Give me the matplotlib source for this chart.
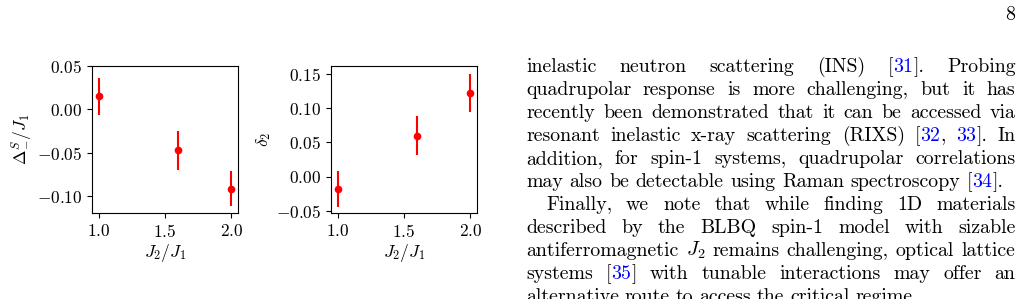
import matplotlib
matplotlib.use("Agg")
import matplotlib.pyplot as plt

plt.rcParams['font.family'] = 'serif'
plt.rcParams['font.serif'] = ['cmr10', 'DejaVu Serif']
plt.rcParams['mathtext.fontset'] = 'cm'
plt.rcParams['axes.formatter.use_mathtext'] = True
plt.rcParams['axes.unicode_minus'] = True

# data
j_ratio = [1.0, 1.6, 2.0]
delta_s = [0.015, -0.047, -0.091]
delta_s_err = [0.021, 0.022, 0.020]
delta2 = [-0.018, 0.060, 0.122]
delta2_err = [0.026, 0.029, 0.028]

xticks = [1.0, 1.5, 2.0]
yticks1 = [-0.10, -0.05, 0.00, 0.05]
yticks2 = [-0.05, 0.00, 0.05, 0.10, 0.15]

B = 'blue'
# page text next to the figure; |...| marks a blue reference number
# second field: right edge of the line in px
lines = [
    ("inelastic neutron scattering (INS) [|31|]. Probing", 1015.5, 0),
    ("quadrupolar response is more challenging, but it has", 1015.5, 0),
    ("recently been demonstrated that it can be accessed via", 1015.5, 0),
    ("resonant inelastic x-ray scattering (RIXS) [|32|, |33|]. In", 1015.5, 0),
    ("addition, for spin-1 systems, quadrupolar correlations", 1015.5, 0),
    ("may also be detectable using Raman spectroscopy [|34|].", 1003, 0),
    ("Finally, we note that while finding 1D materials", 1015.5, 20),
    ("described by the BLBQ spin-1 model with sizable", 1015.5, 0),
    ("antiferromagnetic $J_2$ remains challenging, optical lattice", 1015.5, 0),
    ("systems [|35|] with tunable interactions may offer an", 1015.5, 0),
    ("alternative route to access the critical regime.", 918, 0),
]

W, H = 1022, 299
fig = plt.figure(figsize=(W / 100, H / 100), dpi=100)

fs = 12.5
ax1 = fig.add_axes([92 / W, (H - 213) / H, 146 / W, 147 / H])
ax1.errorbar(j_ratio, delta_s, yerr=delta_s_err, fmt='o', color='red',
             markersize=4.5, elinewidth=1.5, capsize=0)
ax1.set_xticks(xticks)
ax1.set_yticks(yticks1)
ax1.set_xlim(0.95, 2.05)
ax1.set_ylim(-0.119, 0.05)
ax1.set_xlabel(r'$J_2/J_1$', fontsize=fs, labelpad=2)
ax1.set_ylabel(r'$\Delta_{-}^{S}/J_1$', fontsize=fs, labelpad=1)
ax1.tick_params(labelsize=fs)

ax2 = fig.add_axes([331 / W, (H - 213) / H, 146 / W, 147 / H])
ax2.errorbar(j_ratio, delta2, yerr=delta2_err, fmt='o', color='red',
             markersize=4.5, elinewidth=1.5, capsize=0)
ax2.set_xticks(xticks)
ax2.set_yticks(yticks2)
ax2.set_xlim(0.95, 2.05)
ax2.set_ylim(-0.053, 0.1617)
ax2.set_xlabel(r'$J_2/J_1$', fontsize=fs, labelpad=2)
ax2.set_ylabel(r'$\delta_2$', fontsize=fs, labelpad=2)
ax2.tick_params(labelsize=fs)

# justified text column
tfs = 14.3
left = 526
base0, lead = 71.7, 23.0
r = fig.canvas.get_renderer()


def width(s):
    t = fig.text(0, 0, s, fontsize=tfs)
    w = t.get_window_extent(r).width
    t.remove()
    return w


for i, (line, right, indent) in enumerate(lines):
    y = 1 - (base0 + i * lead) / H
    words = []
    for w in line.split(' '):
        pieces = w.split('|')
        cols = ['black' if k % 2 == 0 else B for k in range(len(pieces))]
        words.append([(p, c) for p, c in zip(pieces, cols) if p])
    wws = [sum(width(p) for p, _ in wd) for wd in words]
    x0 = left + indent
    gap = (right - x0 - sum(wws)) / (len(words) - 1)
    x = x0
    for wd, ww in zip(words, wws):
        xx = x
        for p, c in wd:
            fig.text(xx / W, y, p, fontsize=tfs, color=c, va='baseline')
            xx += width(p)
        x += ww + gap

fig.text(1015.5 / W, 1 - 20 / H, '8', fontsize=tfs, ha='right', va='baseline')

fig.savefig('out.png', dpi=100)
